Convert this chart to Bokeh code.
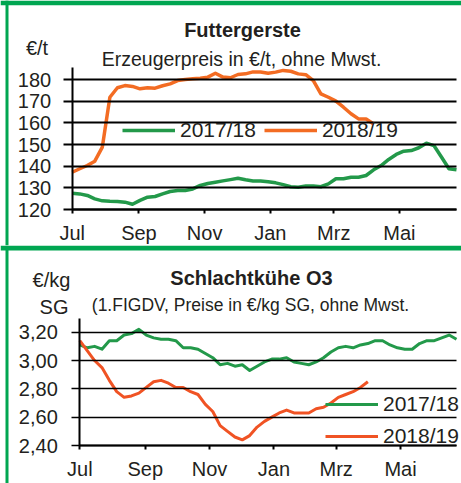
from bokeh.plotting import figure
from bokeh.models import (FixedTicker, CustomJSTickFormatter, Label, Legend, LegendItem,
                          BoxAnnotation)
from bokeh.layouts import column
from bokeh.embed import file_html
from bokeh.resources import INLINE

# ---------------- data ----------------
month_labels = ["Jul", "Sep", "Nov", "Jan", "Mrz", "Mai"]
month_days = [0, 62, 123, 184, 243, 304]          # days after 1 July
weeks = list(range(52))                           # weekly observations

gerste_ticks = [120, 130, 140, 150, 160, 170, 180]
gerste_1718 = [127.5, 127.2, 126.5, 124.9, 124.0, 123.8, 123.7, 123.4, 122.4, 124.2,
               125.7, 126.0, 127.2, 128.3, 128.8, 128.8, 129.5, 131.1, 132.0, 132.6,
               133.2, 133.8, 134.4, 133.7, 133.2, 133.1, 132.8, 132.3, 131.5, 130.5,
               130.3, 130.8, 130.8, 130.5, 131.8, 134.2, 134.2, 134.9, 134.9, 135.7,
               138.3, 140.3, 143.1, 145.4, 146.9, 147.2, 148.5, 150.6, 149.5, 144.2,
               138.8, 138.3]
gerste_1819 = [137.2, 138.8, 140.3, 142.3, 148.8, 171.8, 176.2, 177.2, 176.8, 175.7,
               176.2, 176.0, 177.1, 178.0, 179.5, 180.0, 180.3, 180.6, 181.1, 182.9,
               181.1, 180.8, 182.3, 182.6, 183.5, 183.5, 182.9, 183.4, 184.2, 183.8,
               182.6, 182.2, 179.5, 173.4, 171.8, 170.0, 167.2, 164.2, 161.8, 161.8,
               159.5]

kuehe_ticks = [2.4, 2.6, 2.8, 3.0, 3.2]
kuehe_1718 = [3.11, 3.09, 3.10, 3.08, 3.14, 3.14, 3.18, 3.19, 3.22, 3.18,
              3.16, 3.15, 3.15, 3.14, 3.09, 3.09, 3.08, 3.05, 3.02, 2.97,
              2.98, 2.96, 2.97, 2.93, 2.96, 2.99, 3.01, 3.01, 3.02, 2.99,
              2.98, 2.97, 2.99, 3.02, 3.06, 3.09, 3.10, 3.09, 3.11, 3.12,
              3.14, 3.14, 3.11, 3.09, 3.08, 3.08, 3.12, 3.14, 3.14, 3.16,
              3.18, 3.15]
kuehe_1819 = [3.14, 3.07, 3.00, 2.95, 2.86, 2.78, 2.74, 2.75, 2.77, 2.81,
              2.85, 2.86, 2.84, 2.81, 2.81, 2.78, 2.76, 2.69, 2.64, 2.54,
              2.50, 2.46, 2.44, 2.47, 2.53, 2.57, 2.60, 2.63, 2.65, 2.63,
              2.63, 2.63, 2.66, 2.67, 2.70, 2.74, 2.76, 2.78, 2.81, 2.85]

series_labels = ["2017/18", "2018/19"]

# ---------------- style / layout ----------------
FONT = "Liberation Sans"
TXT = "#231f20"
GREEN = "#23994a"
ORANGE = "#f36c23"
RED = "#f05324"
BORDER = "#00a651"
W = 461
X_END = 357  # last week (51) in days


def days(vals):
    return [7 * w for w in weeks[:len(vals)]]


class Mapper:
    """Pixel calibration of a panel: canvas pixel -> data value."""
    def __init__(self, height, ax_left, ax_right, y_a, py_a, y_b, py_b):
        self.h = height
        self.kx = X_END / (ax_right - ax_left)
        self.ax_left = ax_left
        self.ky = (y_b - y_a) / (py_a - py_b)
        self.y_a, self.py_a = y_a, py_a

    def x(self, px):
        return (px - self.ax_left) * self.kx

    def y(self, py):
        return self.y_a + (self.py_a - py) * self.ky


month_fmt = CustomJSTickFormatter(args=dict(d=month_days, l=month_labels), code="""
const i = d.indexOf(Math.round(tick));
return i >= 0 ? l[i] : "";
""")


def make_panel(m, yticks, ytop, ytick_out, grid_w, ystandoff, yfmt=None):
    p = figure(width=W, height=m.h, x_range=(m.x(0), m.x(W)), y_range=(m.y(m.h), m.y(0)),
               output_backend="svg", toolbar_location=None, title_location=None,
               min_border=0, background_fill_color="white", border_fill_color="white",
               outline_line_color=None)
    p.grid.visible = False
    xa, ya = p.xaxis[0], p.yaxis[0]
    xa.fixed_location = yticks[0]
    xa.bounds = (0, X_END)
    ya.fixed_location = 0
    ya.bounds = (yticks[0], ytop)
    xa.ticker = FixedTicker(ticks=month_days)
    xa.formatter = month_fmt
    ya.ticker = FixedTicker(ticks=yticks)
    if yfmt is not None:
        ya.formatter = yfmt
    for ax in (xa, ya):
        ax.axis_line_color = "black"
        ax.axis_line_width = 2
        ax.major_tick_line_color = "black"
        ax.minor_tick_line_color = None
        ax.major_label_text_font = FONT
        ax.major_label_text_font_size = "20px"
        ax.major_label_text_color = TXT
    xa.major_tick_line_width = 2
    xa.major_tick_out = 4
    xa.major_tick_in = 0
    xa.major_label_standoff = 8
    # y ticks reach across the panel and act as the horizontal grid lines
    ya.major_tick_line_width = grid_w
    ya.major_tick_out = ytick_out
    ya.major_tick_in = round(X_END / m.kx)
    ya.major_label_standoff = ystandoff
    # green frame: left strip
    p.add_layout(BoxAnnotation(left=m.x(5), right=m.x(8), fill_color=BORDER, fill_alpha=1,
                               line_color=None))
    return p


def add_label(p, m, text, px, py, size, bold=False):
    p.add_layout(Label(x=px, y=m.h - py, x_units="screen", y_units="screen", text=text,
                       text_font=FONT, text_font_size=size, text_color=TXT,
                       text_font_style="bold" if bold else "normal",
                       text_align="center", text_baseline="alphabetic"))


def add_legend(p, renderers, orientation, px, py_bottom, spacing):
    p.add_layout(Legend(items=[LegendItem(label=l, renderers=[r])
                               for l, r in zip(series_labels, renderers)],
                        orientation=orientation, location=(px, py_bottom),
                        glyph_width=53, glyph_height=20, label_standoff=5, spacing=spacing,
                        padding=0, margin=0, border_line_color=None, background_fill_alpha=0,
                        label_text_font=FONT, label_text_font_size="21px",
                        label_text_color=TXT))


# ---------------- panel 1: Futtergerste ----------------
m1 = Mapper(245, 71.7, 456, 120, 209, 180, 79)
p1 = make_panel(m1, gerste_ticks, 185.5, 9, 2, 12)
p1.add_layout(BoxAnnotation(bottom=m1.y(4.7), fill_color=BORDER, fill_alpha=1, line_color=None))
g1 = p1.line(days(gerste_1718), gerste_1718, line_color=GREEN, line_width=3.5, line_join="round")
g2 = p1.line(days(gerste_1819), gerste_1819, line_color=ORANGE, line_width=3.5, line_join="round")
add_legend(p1, [g1, g2], "horizontal", 122, 245 - 131 - 11, 8)
add_label(p1, m1, "Futtergerste", 242, 29.3, "20px", bold=True)
add_label(p1, m1, "Erzeugerpreis in €/t, ohne Mwst.", 241, 58.3, "19.5px")
add_label(p1, m1, "€/t", 36.5, 47.3, "20px")

# ---------------- panel 2: Schlachtkuehe ----------------
comma_fmt = CustomJSTickFormatter(code="return tick.toFixed(2).replace('.', ',');")
m2 = Mapper(238, 79.3, 456, 2.4, 200, 3.2, 86.7)
p2 = make_panel(m2, kuehe_ticks, 3.30, 8, 1.5, 14, comma_fmt)
p2.add_layout(BoxAnnotation(bottom=m2.y(5), fill_color=BORDER, fill_alpha=1, line_color=None))
k1 = p2.line(days(kuehe_1718), kuehe_1718, line_color=GREEN, line_width=3, line_join="round")
k2 = p2.line(days(kuehe_1819), kuehe_1819, line_color=RED, line_width=3, line_join="round")
add_legend(p2, [k1, k2], "vertical", 325, 238 - 189.3 - 14, 8)
add_label(p2, m2, "Schlachtkühe O3", 251, 32.3, "20px", bold=True)
add_label(p2, m2, "(1.FIGDV, Preise in €/kg SG, ohne Mwst.", 250, 59.5, "17.5px")
add_label(p2, m2, "€/kg", 51, 34, "20px")
add_label(p2, m2, "SG", 53.5, 61.7, "20px")

layout = column(p1, p2, spacing=0)
open("out.html", "w").write(file_html(layout, INLINE))
